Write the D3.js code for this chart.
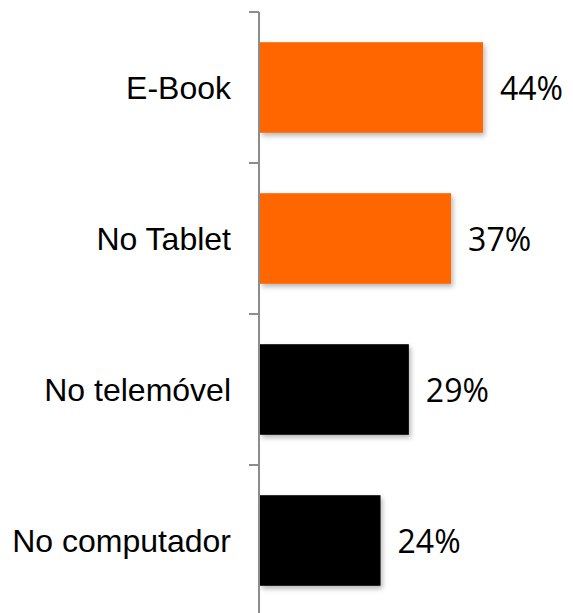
<!DOCTYPE html>
<html>
<head>
<meta charset="utf-8">
<script src="https://cdn.jsdelivr.net/npm/d3@7"></script>
<style>
  html, body { margin: 0; padding: 0; background: #fff; }
  svg { display: block; }
</style>
</head>
<body>
<svg id="chart" width="573" height="613"></svg>
<script>
const categories = ["E-Book", "No Tablet", "No telemóvel", "No computador"];
const values = [43.5, 37.3, 29.1, 23.6];
const valueLabels = ["44%", "37%", "29%", "24%"];
const barColors = ["#FF6600", "#FF6600", "#000000", "#000000"];

const svg = d3.select("#chart");
const axisX = 259;

const defs = svg.append("defs");
const f = defs.append("filter").attr("id", "shadow")
  .attr("x", "-10%").attr("y", "-10%").attr("width", "130%").attr("height", "130%");
f.append("feDropShadow").attr("dx", 2).attr("dy", 3).attr("stdDeviation", 2.5)
  .attr("flood-color", "#000").attr("flood-opacity", 0.28);

const y = d3.scaleBand().domain(categories).range([12, 616])
  .paddingInner(0.4).paddingOuter(0.2);
const x = d3.scaleLinear().domain([0, 100]).range([axisX, axisX + 515]);

const step = y.step();
const gap = (step - y.bandwidth()) / 2;

// bars
svg.append("g").selectAll("rect").data(categories).join("rect")
  .attr("x", x(0) + 1)
  .attr("y", d => y(d))
  .attr("width", (d, i) => x(values[i]) - x(0) - 1)
  .attr("height", y.bandwidth())
  .attr("fill", (d, i) => barColors[i])
  .attr("filter", "url(#shadow)");

// axis line
svg.append("line")
  .attr("x1", axisX).attr("x2", axisX)
  .attr("y1", 12).attr("y2", 616)
  .attr("stroke", "#8c8c8c").attr("stroke-width", 2);

// tick marks at band boundaries
const boundaries = categories.map(c => y(c) - gap).concat([y(categories[categories.length - 1]) + y.bandwidth() + gap]);
svg.append("g").selectAll("line").data(boundaries).join("line")
  .attr("x1", axisX - 10).attr("x2", axisX)
  .attr("y1", d => d).attr("y2", d => d)
  .attr("stroke", "#8c8c8c").attr("stroke-width", 2);

// category labels
svg.append("g").selectAll("text").data(categories).join("text")
  .attr("x", 231)
  .attr("y", d => y(d) + y.bandwidth() / 2 + 11)
  .attr("text-anchor", "end")
  .attr("font-family", "'Liberation Sans', Arial, sans-serif")
  .attr("font-size", 32)
  .attr("fill", "#000")
  .text(d => d);

// value labels
svg.append("g").selectAll("text").data(categories).join("text")
  .attr("x", (d, i) => x(values[i]) + 17)
  .attr("y", d => y(d) + y.bandwidth() / 2 + 12)
  .attr("font-family", "'Open Sans', sans-serif")
  .attr("font-size", 32)
  .attr("fill", "#000")
  .text((d, i) => valueLabels[i]);
</script>
</body>
</html>
